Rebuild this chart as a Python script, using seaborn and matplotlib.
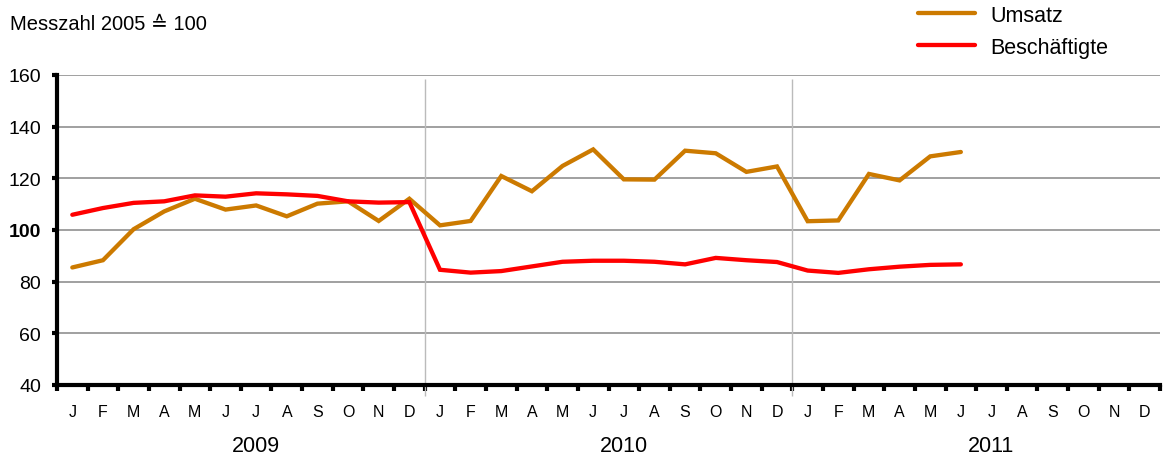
import matplotlib
matplotlib.use("Agg")
import matplotlib.pyplot as plt
import seaborn as sns
import pandas as pd
import numpy as np
from matplotlib.lines import Line2D

months = ["J", "F", "M", "A", "M", "J", "J", "A", "S", "O", "N", "D"]
years = ["2009", "2010", "2011"]

umsatz = [85.5, 88.3, 100.3, 107.2, 112.1, 107.9, 109.5, 105.3, 110.2, 111.1, 103.5, 112.1,
          101.8, 103.5, 120.9, 115.0, 124.8, 131.2, 119.6, 119.5, 130.7, 129.7, 122.5, 124.6,
          103.4, 103.7, 121.7, 119.2, 128.5, 130.2]
beschaeftigte = [105.9, 108.5, 110.5, 111.1, 113.4, 112.9, 114.2, 113.8, 113.2, 111.1, 110.6, 110.8,
                 84.6, 83.5, 84.1, 85.9, 87.7, 88.1, 88.1, 87.7, 86.7, 89.2, 88.3, 87.6,
                 84.3, 83.4, 84.8, 85.8, 86.5, 86.7]
series_names = ["Umsatz", "Beschäftigte"]
colors = {"Umsatz": "#CC7A00", "Beschäftigte": "#FF0000"}
yticks = [40, 60, 80, 100, 120, 140, 160]

sns.set_theme(style="white")
plt.rcParams["font.family"] = ["Liberation Sans", "DejaVu Sans"]
plt.rcParams["text.color"] = "black"
plt.rcParams["xtick.color"] = "black"
plt.rcParams["ytick.color"] = "black"

df = pd.DataFrame({
    "idx": list(range(len(umsatz))) + list(range(len(beschaeftigte))),
    "value": umsatz + beschaeftigte,
    "series": ["Umsatz"] * len(umsatz) + ["Beschäftigte"] * len(beschaeftigte),
})

fig = plt.figure(figsize=(11.74, 4.56), dpi=100)
ax = fig.add_axes([57 / 1174, 1 - 386 / 456, (1160 - 57) / 1174, (386 - 76) / 456])

n_months = len(months) * len(years)

# horizontal gridlines
for v in yticks[1:]:
    ax.axhline(v, color="#999999", lw=1.3, zorder=1)
# year separators
for k in range(1, len(years)):
    ax.vlines(k * 12 - 0.5, 35.7, 158.5, color="#BBBBBB", lw=1.0, zorder=1, clip_on=False)

sns.lineplot(data=df, x="idx", y="value", hue="series", hue_order=series_names,
             palette=colors, lw=3.1, ax=ax, legend=False, zorder=3,
             solid_capstyle="round", solid_joinstyle="miter")

ax.set_xlim(-0.5, n_months - 0.5)
ax.set_ylim(40, 160)

# spines
for s in ["top", "right"]:
    ax.spines[s].set_visible(False)
for s in ["left", "bottom"]:
    ax.spines[s].set_color("black")
    ax.spines[s].set_linewidth(3.0)
    ax.spines[s].set_zorder(4)

# ticks
ax.set_xticks(np.arange(-0.5, n_months, 1.0))
ax.set_xticklabels([])
ax.set_xticks(np.arange(0, n_months), minor=True)
ax.set_xticklabels(months * len(years), minor=True, fontsize=11.5)
ax.tick_params(axis="x", which="major", direction="out", length=4, width=3, color="black", bottom=True)
ax.tick_params(axis="x", which="minor", length=0, pad=14, labelcolor="black")

ax.set_yticks(yticks)
ax.set_yticklabels([str(v) for v in yticks], fontsize=14)
ax.tick_params(axis="y", direction="out", length=3.5, width=3, color="black", left=True,
               pad=8, labelcolor="black")
for lab in ax.get_yticklabels():
    if lab.get_text() == "100":
        lab.set_fontweight("bold")
ax.set_xlabel("")
ax.set_ylabel("")

# year labels
for k, y in enumerate(years):
    ax.text(k * 12 + 6, -0.195, y, transform=ax.get_xaxis_transform(),
            ha="center", va="center", fontsize=15.5)

fig.text(10 / 1174, 1 - 25 / 456, "Messzahl 2005 \u2259 100", fontsize=14.5,
         ha="left", va="center")

# legend
handles = [Line2D([], [], color=colors[n], lw=3.1, solid_capstyle="round") for n in series_names]
fig.legend(handles, series_names, loc="upper left", bbox_to_anchor=(918 / 1174, 1 - 6 / 456),
           frameon=False, fontsize=15.5, handlelength=2.65, handletextpad=0.7,
           labelspacing=0.5, borderpad=0, borderaxespad=0)

fig.savefig("out.png", dpi=100)
